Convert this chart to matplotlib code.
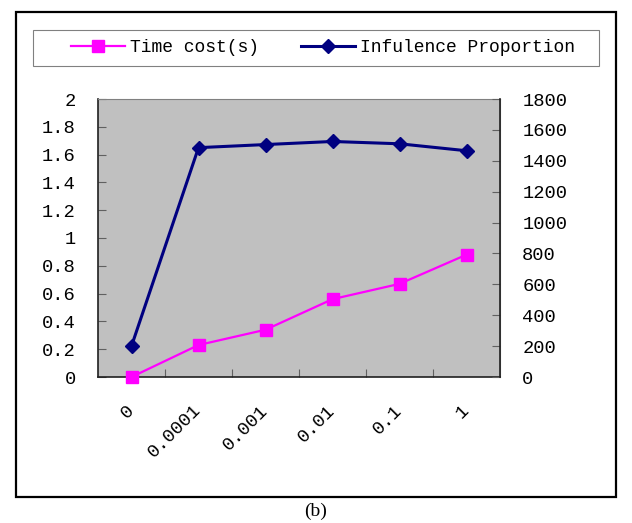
import matplotlib
matplotlib.use("Agg")
import matplotlib.pyplot as plt
from matplotlib.patches import Rectangle
from matplotlib.lines import Line2D

# 数据
categories = ["0", "0.0001", "0.001", "0.01", "0.1", "1"]
time_cost = [0, 0.23, 0.34, 0.56, 0.67, 0.88]
influence = [200, 1485, 1505, 1525, 1510, 1465]
left_ticks = [0, 0.2, 0.4, 0.6, 0.8, 1, 1.2, 1.4, 1.6, 1.8, 2]
left_labels = ["0", "0.2", "0.4", "0.6", "0.8", "1", "1.2", "1.4", "1.6", "1.8", "2"]
right_ticks = [0, 200, 400, 600, 800, 1000, 1200, 1400, 1600, 1800]

font = "Liberation Mono"
fs = 13.5

fig = plt.figure(figsize=(6.32, 5.23), dpi=100)

# 外框
fig.patches.append(Rectangle((16 / 632, 1 - 497 / 523), 600 / 632, 485 / 523,
                             transform=fig.transFigure, fill=False,
                             edgecolor="black", linewidth=1.6))
# 图例框
fig.patches.append(Rectangle((33 / 632, 1 - 66 / 523), 566 / 632, 36 / 523,
                             transform=fig.transFigure, fill=False,
                             edgecolor="#808080", linewidth=0.8))

ax = fig.add_axes([98 / 632, 1 - 377 / 523, 402 / 632, 278 / 523])
ax.set_facecolor("#C0C0C0")
ax2 = ax.twinx()

x = list(range(len(categories)))
ax.plot(x, time_cost, color="#FF00FF", linewidth=1.6, marker="s",
        markersize=9, markerfacecolor="#FF00FF", markeredgecolor="#FF00FF",
        clip_on=False, zorder=5)
ax2.plot(x, influence, color="#000080", linewidth=2.2, marker="D",
         markersize=7.5, markerfacecolor="#000080", markeredgecolor="#000080",
         clip_on=False, zorder=5)

ax.set_xlim(-0.5, len(categories) - 0.5)
ax.set_ylim(0, 2)
ax2.set_ylim(0, 1800)

ax.set_yticks(left_ticks)
ax.set_yticklabels(left_labels, fontfamily=font, fontsize=fs)
ax2.set_yticks(right_ticks)
ax2.set_yticklabels([str(v) for v in right_ticks], fontfamily=font, fontsize=fs)

# x轴刻度在类别之间, 标签在类别中心
ax.set_xticks([i + 0.5 for i in range(len(categories) - 1)])
ax.set_xticklabels([])
ax.set_xticks(x, minor=True)
ax.set_xticklabels(categories, minor=True, rotation=45, ha="right", va="center",
                   rotation_mode="anchor", fontfamily=font, fontsize=fs)
ax.tick_params(axis="x", which="minor", length=0, pad=22)
ax.tick_params(axis="x", which="major", direction="in", length=6, color="#606060")
ax.tick_params(axis="y", direction="in", length=6, pad=16, color="#606060")
ax2.tick_params(axis="y", direction="in", length=6, pad=16, color="#606060")

for s in ["top", "right"]:
    ax.spines[s].set_color("#808080")
for s in ["left", "bottom"]:
    ax.spines[s].set_color("#202020")
    ax.spines[s].set_linewidth(1.2)
ax2.spines["right"].set_color("#202020")
ax2.spines["right"].set_linewidth(1.2)
ax2.spines["top"].set_visible(False)
ax2.spines["left"].set_visible(False)
ax2.spines["bottom"].set_visible(False)

handles = [
    Line2D([], [], color="#FF00FF", linewidth=1.6, marker="s", markersize=9),
    Line2D([], [], color="#000080", linewidth=2.2, marker="D", markersize=7.5),
]
fig.legend(handles, ["Time cost(s)", "Infulence Proportion"], loc="center",
           bbox_to_anchor=(323 / 632, 1 - 48 / 523), ncol=2, frameon=False,
           prop={"family": font, "size": 13}, handlelength=3,
           handletextpad=0.3, columnspacing=2.3)

fig.text(316 / 632, 1 - 511 / 523, "(b)", ha="center", va="center",
         fontfamily="Liberation Serif", fontsize=14)

fig.savefig("out.png", dpi=100)
